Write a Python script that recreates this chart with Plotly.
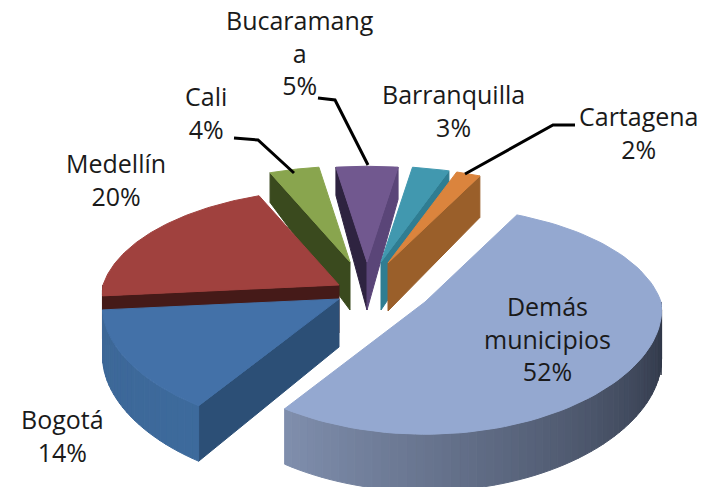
import numpy as np
import plotly.graph_objects as go

categories = ["Demás municipios", "Bogotá", "Medellín", "Cali", "Bucaramanga", "Barranquilla", "Cartagena"]
values = [52, 14, 20, 4, 5, 3, 2]
label_lines = [["Demás", "municipios"], ["Bogotá"], ["Medellín"], ["Cali"], ["Bucaramang", "a"], ["Barranquilla"], ["Cartagena"]]
top_colors = ["#94a8d0", "#4371a8", "#a0413e", "#89a54e", "#71588f", "#4198af", "#db843d"]

# drawing geometry (pixel layout of the exploded 3-D pie)
label_pos = [(547, 338), (62, 435), (116, 179), (206, 112), (300, 52), (453, 110), (639, 132)]
apex = [(425, 302), (339, 299), (339, 285), (350, 262), (367, 262), (381, 262), (388, 263)]
start_walls = {1: "#2c4f76", 2: "#451a18", 3: "#3a4a1e", 4: "#2e2340"}
end_walls = {4: "#5a4578", 5: "#2f7d92", 6: "#9a5f2a"}
rim_grad = {0: ("#7f8eac", "#2b3242"), 1: ("#3d6797", "#3d6a9c"), 2: ("#451a18", "#451a18")}
draw_order = [4, 3, 5, 6, 2, 1, 0]

START = 27.0
RX, RY, K, K_FRONT_X = 236, 114, 0.16, 0.07
total = sum(values)


def proj(deg, cx, cy, down=False):
    a = np.radians(deg)
    u, v = np.sin(a), -np.cos(a)
    f = 1 + K * v
    fx = np.where(v > 0, 1 + K_FRONT_X * v, f)
    x = cx + RX * u * fx
    y = cy + RY * v * f
    if down:
        y = y + np.where(v > 0, 48 + 9 * v, 48 + 20 * v + 25 * np.maximum(u, 0))
    return x, y


def hex_mix(c1, c2, t):
    a = [int(c1[i:i + 2], 16) for i in (1, 3, 5)]
    b = [int(c2[i:i + 2], 16) for i in (1, 3, 5)]
    return "rgb(%d,%d,%d)" % tuple(round(a[i] + (b[i] - a[i]) * t) for i in range(3))


fig = go.Figure()


def poly(xs, ys, color):
    fig.add_trace(go.Scatter(x=xs, y=ys, mode="lines", fill="toself", fillcolor=color,
                             line=dict(color=color, width=1), hoverinfo="skip", showlegend=False))


spans = []
cur = START
for v in values:
    spans.append((cur, cur + v * 360 / total))
    cur += v * 360 / total


def wall(angle, cx, cy, color):
    ox, oy = proj(angle, cx, cy)
    ox2, oy2 = proj(angle, cx, cy, True)
    poly([cx, float(ox), float(ox2), cx, cx], [cy, float(oy), float(oy2), cy + 48, cy], color)


for i in draw_order:
    a0, a1 = spans[i]
    cx, cy = apex[i]
    if i in start_walls:
        wall(a0, cx, cy, start_walls[i])
    if i in end_walls:
        wall(a1, cx, cy, end_walls[i])
    lo, hi = max(a0, 90), min(a1, 270)
    if lo < hi and i in rim_grad:
        steps = max(2, int((hi - lo) / 2))
        edges = np.linspace(lo, hi, steps + 1)
        for s in range(steps):
            t = s / (steps - 1)           # 0 = right end of the rim, 1 = left end
            col = hex_mix(rim_grad[i][1], rim_grad[i][0], t)
            xa, ya = proj(edges[s], cx, cy)
            xb, yb = proj(edges[s + 1], cx, cy)
            xc, yc = proj(edges[s + 1], cx, cy, True)
            xd, yd = proj(edges[s], cx, cy, True)
            poly([float(xa), float(xb), float(xc), float(xd), float(xa)],
                 [float(ya), float(yb), float(yc), float(yd), float(ya)], col)
    ang = np.linspace(a0, a1, 90)
    px, py = proj(ang, cx, cy)
    poly(np.r_[cx, px, cx], np.r_[cy, py, cy], top_colors[i])

for (x, y), name, lines, v in zip(label_pos, categories, label_lines, values):
    fig.add_annotation(x=x, y=y, xref="x", yref="y", showarrow=False, xanchor="center", yanchor="middle",
                       text="<br>".join(lines + [f"{v}%"]), align="center",
                       font=dict(family="Open Sans", size=25, color="#1a1a1a"))

for path in ["M 234 138 L 258 140 L 294 173", "M 318 98 L 335 100 L 368 165", "M 575 125 L 553 125 L 465 174"]:
    fig.add_shape(type="path", path=path, xref="x", yref="y", line=dict(color="#000000", width=3))

fig.update_layout(width=715, height=487, margin=dict(l=0, r=0, t=0, b=0), paper_bgcolor="white", plot_bgcolor="white",
                  showlegend=False,
                  xaxis=dict(range=[0, 715], visible=False, fixedrange=True),
                  yaxis=dict(range=[487, 0], visible=False, fixedrange=True))
# remove the page's default body margin so that plot pixels equal window pixels
fig.write_html("out.html", config={"displayModeBar": False},
               post_script="document.body.style.margin='0';document.body.style.overflow='hidden';")
